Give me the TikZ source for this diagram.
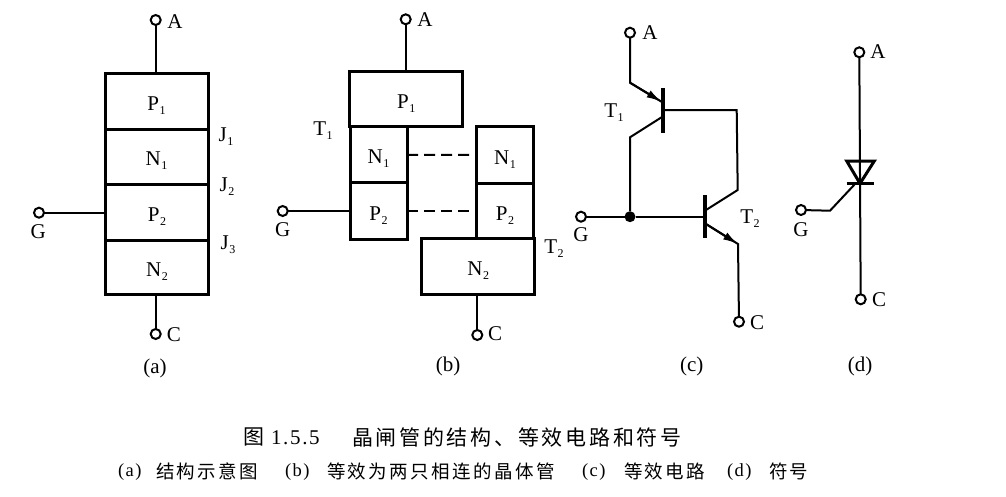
\documentclass[tikz,border=0pt]{standalone}
\usepackage{fontspec}
\setmainfont{Liberation Serif}
\newfontfamily\cjkA{Noto Sans CJK SC}[LetterSpace=13]
\newfontfamily\cjkB{Noto Sans CJK SC}[LetterSpace=13]
\newfontfamily\capnum{Liberation Serif}[LetterSpace=8]
\usetikzlibrary{arrows.meta}
\newcommand{\sbs}[2]{#1\kern0.5pt\raisebox{-4pt}{\fontsize{12}{13}\selectfont #2}}
\newcommand{\cellt}[2]{\raisebox{-9pt}[0pt][0pt]{\sbs{#1}{#2}}}
\tikzset{
  term/.style={circle,draw=black,line width=2pt,fill=white,minimum size=10pt,inner sep=0pt,outer sep=0pt},
  lab/.style={inner sep=0pt,outer sep=0pt,font=\fontsize{21}{23}\selectfont,text=black},
  sub/.style={lab},
  cell/.style={rectangle,draw=black,line width=3pt,inner sep=0pt,outer sep=0pt,font=\fontsize{21}{23}\selectfont,minimum width=#1},
  wire/.style={line width=2pt,draw=black,line join=miter},
  bar/.style={line width=3.6pt,draw=black},
  dashwire/.style={line width=2pt,draw=black,dash pattern=on 11pt off 6pt},
  tip/.style={-{Latex[length=15pt,width=8pt]}},
  dot/.style={circle,fill=black,minimum size=11pt,inner sep=0pt,outer sep=0pt},
  capA/.style={anchor=west,inner sep=0pt,outer sep=0pt,font=\fontsize{21}{23}\selectfont},
  capB/.style={anchor=west,inner sep=0pt,outer sep=0pt,font=\fontsize{18.5}{20}\selectfont},
}
\begin{document}
\begin{tikzpicture}[x=1pt,y=-1pt]
\useasboundingbox (0,0) rectangle (1006,496);
% ---------- (a)
\node[term] (aA) at (155.7,20) {};
\node[term] (aC) at (155.7,334) {};
\node[term] (aG) at (39,212.7) {};
\node[cell=103pt,minimum height=56pt] (aP1) at (156.5,101) {\cellt{P}{1}};
\node[cell=103pt,minimum height=55pt] (aN1) at (156.5,156.5) {\cellt{N}{1}};
\node[cell=103pt,minimum height=56pt] (aP2) at (157,212) {\cellt{P}{2}};
\node[cell=103pt,minimum height=54pt] (aN2) at (157,267) {\cellt{N}{2}};
\draw[wire] (aA) -- (aA |- aP1.north);
\draw[wire] (aC) -- (aC |- aN2.south);
\draw[wire] (aG) -- (aG -| aP2.west);
\node[lab] (aAt) at (175,22) {A};
\node[lab] (aCt) at (174,335) {C};
\node[lab] (aGt) at (38.3,232) {G};
\node[sub] (aJ1) at (226,137) {\sbs{J}{1}};
\node[sub] (aJ2) at (227,187) {\sbs{J}{2}};
\node[sub] (aJ3) at (228,245) {\sbs{J}{3}};
\node[lab] (acap) at (155,368) {(a)};
% ---------- (b)
\node[term] (bA) at (405.7,19.3) {};
\node[term] (bC) at (477.3,335) {};
\node[term] (bG) at (282.7,211) {};
\node[cell=113pt,minimum height=55pt] (bP1) at (406.3,99.2) {\cellt{P}{1}};
\node[cell=57pt,minimum height=56pt] (bN1) at (378.5,154.8) {\cellt{N}{1}};
\node[cell=57pt,minimum height=56.5pt] (bP2) at (378.5,211) {\cellt{P}{2}};
\node[cell=57pt,minimum height=56.5pt] (bN1r) at (505,155) {\cellt{N}{1}};
\node[cell=57pt,minimum height=55.5pt] (bP2r) at (505,211) {\cellt{P}{2}};
\node[cell=113pt,minimum height=55.5pt] (bN2) at (478.3,266.4) {\cellt{N}{2}};
\draw[wire] (bA) -- (bA |- bP1.north);
\draw[wire] (bC) -- (bC |- bN2.south);
\draw[wire] (bG) -- (bP2.west);
\draw[dashwire] (bN1.east) -- (bN1r.west);
\draw[dashwire] (bP2.east) -- (bP2r.west);
\node[lab] (bAt) at (425,20) {A};
\node[lab] (bCt) at (495,334) {C};
\node[lab] (bGt) at (282.7,230) {G};
\node[sub] (bT1) at (323,131) {\sbs{T}{1}};
\node[sub] (bT2) at (554,249) {\sbs{T}{2}};
\node[lab] (bcap) at (448,366) {(b)};
% ---------- (c)
\node[term] (cA) at (630,32.7) {};
\node[term] (cC) at (739,321.7) {};
\node[term] (cG) at (581,216.7) {};
\node[dot] (cD) at (630,216.7) {};
\coordinate (t1top) at (662.7,88);
\coordinate (t1bot) at (662.7,132.7);
\coordinate (t1base) at (662.7,110);
\coordinate (t1e) at (661.5,101.7);
\coordinate (t1c) at (661.5,117.3);
\coordinate (bendA) at (630,82.7);
\coordinate (bendB) at (630,137.3);
\coordinate (bendR) at (736.7,110);
\coordinate (bendS) at (737.7,190);
\coordinate (t2top) at (705,195);
\coordinate (t2bot) at (705,238);
\coordinate (t2base) at (705,216.7);
\coordinate (t2c) at (706,210);
\coordinate (t2e) at (706,224);
\coordinate (bendE) at (738,244);
\draw[bar] (t1top) -- (t1bot);
\draw[bar] (t2top) -- (t2bot);
\draw[wire] (cA) -- (bendA) -- (t1e);
\draw[wire,tip] (bendA) -- (t1e);
\draw[wire] (t1c) -- (bendB) -- (cD);
\draw[wire] (t1base) -- (bendR) -- (bendS) -- (t2c);
\draw[wire] (cG) -- (cD) -- (t2base);
\draw[wire] (t2e) -- (bendE) -- (cC);
\draw[wire,tip] (t2e) -- (bendE);
\node[lab] (cAt) at (650,32.7) {A};
\node[lab] (cCt) at (757,322.7) {C};
\node[lab] (cGt) at (581,235) {G};
\node[sub] (cT1) at (614,113) {\sbs{T}{1}};
\node[sub] (cT2) at (750,219) {\sbs{T}{2}};
\node[lab] (ccap) at (691.7,366) {(c)};
% ---------- (d)
\node[term] (dA) at (859.3,52.3) {};
\node[term] (dC) at (860.7,299.3) {};
\node[term] (dG) at (801,210) {};
\coordinate (dTL) at (846.7,161);
\coordinate (dTR) at (874.3,161);
\coordinate (dK) at (860,183.5);
\coordinate (dBL) at (846.7,183.5);
\coordinate (dBR) at (874.3,183.5);
\coordinate (dGb) at (830,210.7);
\coordinate (dGe) at (855,184);
\draw[wire] (dA) -- (dC);
\draw[line width=3pt,line join=miter] (dTL) -- (dTR) -- (dK) -- cycle;
\draw[bar] (dBL) -- (dBR);
\draw[wire] (dG) -- (dGb) -- (dGe);
\node[lab] (dAt) at (878,52) {A};
\node[lab] (dCt) at (879,300) {C};
\node[lab] (dGt) at (801,230) {G};
\node[lab] (dcap) at (860,366) {(d)};
% ---------- caption
\node[capA] (c1a) at (243,437) {{\cjkA 图}};
\node[capA] (c1b) at (271,438) {{\capnum 1.5.5}};
\node[capA] (c1c) at (352,437) {{\cjkA 晶闸管的结构、等效电路和符号}};
\node[capB] (c2a) at (118,472) {{\capnum (a)}};
\node[capB] (c2b) at (156,471) {{\cjkB 结构示意图}};
\node[capB] (c2c) at (285,472) {{\capnum (b)}};
\node[capB] (c2d) at (327,471) {{\cjkB 等效为两只相连的晶体管}};
\node[capB] (c2e) at (582,472) {{\capnum (c)}};
\node[capB] (c2f) at (624,471) {{\cjkB 等效电路}};
\node[capB] (c2g) at (727,472) {{\capnum (d)}};
\node[capB] (c2h) at (769,471) {{\cjkB 符号}};
\end{tikzpicture}
\end{document}
